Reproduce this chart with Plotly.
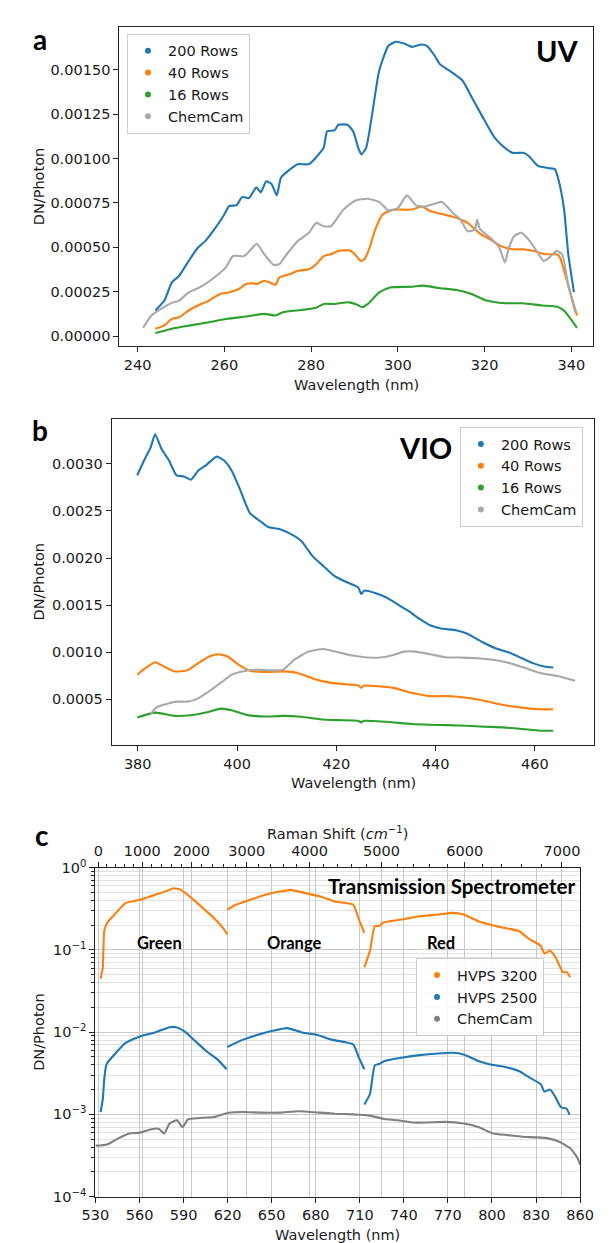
import plotly.graph_objects as go

W, H = 609, 1243

# ---------------- Panel a (UV) ----------------
uv_200_x = [244.1, 246.2, 247.9, 249.6, 251.8, 253.9, 255.6, 257.7, 259.9, 261.1, 262.8, 264.1, 265.7, 267.4, 268.4,
            269.7, 270.9, 272.1, 273.1, 276.9, 279.5, 282.9, 283.7, 285.4, 286.3, 288.4, 289.7, 291.0, 291.6, 292.7,
            294.0, 295.7, 297.8, 299.5, 301.6, 303.3, 305.5, 306.8, 308.5, 309.7, 311.9, 314.9, 317.0, 319.5, 322.1,
            323.8, 326.4, 328.9, 330.2, 332.3, 334.9, 336.2, 337.0, 338.3, 339.3, 340.6]
uv_200_y = [0.000144, 0.0002, 0.000302, 0.00034, 0.000424, 0.000498, 0.000535, 0.000601, 0.000681, 0.000733, 0.000737,
            0.000783, 0.000778, 0.000839, 0.000811, 0.000872, 0.000857, 0.000793, 0.000894, 0.000969, 0.000969, 0.001061,
            0.001154, 0.001159, 0.001191, 0.001191, 0.001154, 0.001052, 0.001024, 0.001061, 0.001237, 0.001496, 0.001635,
            0.001659, 0.001648, 0.00163, 0.001644, 0.001635, 0.00158, 0.001533, 0.001496, 0.001441, 0.001348, 0.001237,
            0.001126, 0.00108, 0.001033, 0.001033, 0.001015, 0.000959, 0.000946, 0.000941, 0.000885, 0.000719, 0.00046,
            0.000248]

uv_40_x = [244.1, 246.2, 247.9, 249.6, 251.8, 253.9, 256.5, 259.0, 261.1, 263.3, 265.0, 266.7, 267.5, 269.2, 270.5,
           271.8, 272.7, 275.2, 276.9, 279.5, 281.2, 282.9, 284.6, 286.3, 288.8, 290.1, 291.4, 292.3, 293.5, 294.8,
           296.5, 298.2, 299.9, 303.3, 305.5, 307.6, 310.2, 313.6, 316.1, 318.7, 321.3, 323.8, 326.4, 328.9, 331.5,
           334.0, 336.6, 337.4, 339.6, 341.3]
uv_40_y = [0.000041, 0.00006, 0.000097, 0.000106, 0.000144, 0.000172, 0.0002, 0.000237, 0.000246, 0.000265, 0.000293,
           0.000297, 0.000293, 0.000312, 0.000302, 0.000289, 0.00033, 0.000349, 0.000368, 0.000377, 0.000405, 0.000451,
           0.000461, 0.000479, 0.000483, 0.000461, 0.000424, 0.000433, 0.000498, 0.000601, 0.000685, 0.000707, 0.000713,
           0.000713, 0.000731, 0.000703, 0.000688, 0.000666, 0.000638, 0.000582, 0.000545, 0.000507, 0.000489, 0.000489,
           0.000479, 0.000461, 0.000461, 0.000442, 0.000256, 0.000116]

uv_16_x = [244.1, 247.9, 252.2, 256.5, 260.7, 265.0, 269.2, 271.8, 273.5, 277.8, 281.2, 282.9, 285.4, 288.8, 290.6,
           291.8, 293.1, 295.7, 298.2, 303.3, 305.9, 309.3, 313.6, 317.0, 320.4, 324.7, 328.9, 333.2, 336.6, 338.3, 341.3]
uv_16_y = [0.0000168, 0.000041, 0.00006, 0.000078, 0.000097, 0.00011, 0.000125, 0.000116, 0.000134, 0.000147, 0.000159,
           0.000181, 0.000181, 0.00019, 0.000177, 0.000162, 0.000181, 0.000246, 0.000274, 0.000278, 0.000284, 0.000271,
           0.000259, 0.000237, 0.0002, 0.000185, 0.000185, 0.000172, 0.000166, 0.000144, 0.0000466]

uv_cc_x = [241.3, 243.2, 245.4, 247.9, 249.6, 251.8, 253.5, 255.6, 258.2, 260.3, 262.0, 264.6, 265.8, 267.5, 269.2,
           271.4, 272.7, 274.4, 276.9, 279.5, 281.2, 282.9, 284.6, 287.1, 288.8, 290.4, 293.0, 295.7, 297.8, 299.9,
           302.1, 304.2, 305.9, 308.5, 310.2, 312.7, 314.4, 316.1, 317.8, 318.3, 318.9, 321.7, 323.4, 324.7, 325.5,
           326.8, 328.5, 329.8, 331.5, 333.6, 334.9, 336.6, 337.9, 339.1, 340.9]
uv_cc_y = [0.0000466, 0.000116, 0.000153, 0.000187, 0.0002, 0.000246, 0.000265, 0.000293, 0.00034, 0.000386, 0.000451,
           0.000451, 0.000479, 0.00052, 0.000461, 0.000401, 0.000405, 0.000461, 0.000535, 0.000582, 0.000638, 0.000619,
           0.000619, 0.000703, 0.000741, 0.000765, 0.000774, 0.000756, 0.000709, 0.000719, 0.000793, 0.000737, 0.000728,
           0.000746, 0.000756, 0.000694, 0.000657, 0.000591, 0.0006, 0.000657, 0.000605, 0.000545, 0.000498, 0.000414,
           0.000489, 0.000563, 0.000582, 0.000554, 0.000498, 0.000424, 0.000442, 0.000479, 0.000461, 0.000312, 0.000134]

# ---------------- Panel b (VIO) ----------------
vio_200_x = [379.9, 381.1, 382.6, 383.5, 384.8, 386.3, 387.8, 389.3, 390.7, 392.2, 393.7, 395.9, 397.4, 398.9, 400.4,
             402.6, 404.8, 406.3, 408.5, 410.7, 413.0, 415.2, 417.4, 419.6, 421.9, 424.4, 425.0, 425.6, 427.8, 430.0,
             432.2, 434.4, 436.7, 438.9, 441.1, 444.1, 446.3, 449.3, 452.2, 455.2, 457.4, 459.6, 461.9, 463.7]
vio_200_y = [0.002878, 0.003017, 0.003175, 0.003315, 0.003157, 0.003035, 0.002878, 0.002867, 0.002832, 0.00293,
             0.002983, 0.003077, 0.003035, 0.00293, 0.002755, 0.002476, 0.002388, 0.002329, 0.002308, 0.002259,
             0.002178, 0.002021, 0.001916, 0.001811, 0.001748, 0.001689, 0.001619, 0.001654, 0.001629, 0.001584,
             0.001514, 0.001444, 0.001357, 0.001287, 0.001252, 0.001234, 0.0012, 0.001112, 0.00104, 0.00099,
             0.000937, 0.000885, 0.00085, 0.000839]

vio_40_x = [379.9, 381.1, 383.5, 385.2, 387.4, 390.0, 392.2, 394.4, 396.3, 398.1, 400.4, 402.6, 405.6, 409.3, 412.2,
            415.9, 418.9, 422.6, 424.4, 425.0, 425.6, 428.5, 431.5, 435.2, 438.9, 442.6, 446.3, 450.0, 453.7, 457.4,
            461.1, 463.7]
vio_40_y = [0.000762, 0.000815, 0.000895, 0.00085, 0.000797, 0.000808, 0.000885, 0.000955, 0.000979, 0.000955,
            0.000867, 0.000804, 0.00079, 0.000797, 0.00078, 0.00071, 0.000675, 0.000657, 0.00065, 0.000622, 0.000647,
            0.00064, 0.000622, 0.00057, 0.000535, 0.000535, 0.000517, 0.000483, 0.00044, 0.000413, 0.000395, 0.000395]

vio_16_x = [379.9, 383.5, 387.4, 390.7, 393.7, 396.7, 398.9, 401.9, 405.6, 409.3, 413.0, 416.7, 420.4, 424.4, 425.0,
            425.6, 430.0, 435.2, 438.9, 442.6, 446.3, 450.0, 453.7, 457.4, 461.1, 463.7]
vio_16_y = [0.000308, 0.00036, 0.000325, 0.000332, 0.00036, 0.000402, 0.000385, 0.000336, 0.000318, 0.000325,
            0.000315, 0.00029, 0.00028, 0.000273, 0.000255, 0.000273, 0.000262, 0.000238, 0.000231, 0.000227,
            0.00022, 0.00021, 0.000203, 0.000185, 0.000168, 0.000168]

vio_cc_x = [382.6, 383.7, 385.6, 387.8, 390.0, 392.2, 394.4, 396.7, 398.9, 401.1, 404.1, 407.0, 409.3, 411.5, 414.4,
            417.4, 420.4, 423.3, 426.3, 429.3, 431.5, 433.7, 435.9, 438.9, 441.9, 444.8, 448.5, 451.5, 454.4, 458.1,
            461.1, 464.8, 468.1]
vio_cc_y = [0.000343, 0.000413, 0.000448, 0.000476, 0.000476, 0.000511, 0.000587, 0.000675, 0.000762, 0.000797,
            0.000815, 0.000808, 0.000815, 0.00092, 0.001007, 0.001035, 0.001, 0.000965, 0.000944, 0.000948, 0.000972,
            0.001007, 0.001007, 0.000979, 0.000948, 0.000944, 0.000937, 0.00092, 0.000892, 0.000832, 0.00078,
            0.000745, 0.000699]

# ---------------- Panel c (Transmission spectrometer) ----------------
hv3200_green_x = [533.5, 535.0, 536.0, 538.0, 543.0, 550.5, 560.5, 570.5, 580.5, 583.0, 588.0, 595.5, 603.1, 610.6, 616.8, 619.8]
hv3200_green_y = [0.0445, 0.0614, 0.169, 0.213, 0.268, 0.37, 0.406, 0.466, 0.535, 0.56, 0.535, 0.425, 0.322, 0.244, 0.185, 0.154]
hv3200_orange_x = [619.8, 625.6, 635.6, 645.6, 655.6, 663.1, 673.1, 683.1, 693.1, 700.6, 705.6, 709.4, 713.1]
hv3200_orange_y = [0.308, 0.353, 0.406, 0.466, 0.51, 0.535, 0.488, 0.445, 0.387, 0.37, 0.353, 0.233, 0.161]
hv3200_red_x = [713.1, 716.9, 720.2, 723.2, 725.7, 738.2, 750.7, 763.2, 773.2, 780.7, 790.7, 798.2, 808.2, 818.2,
                825.7, 833.2, 835.7, 839.5, 843.3, 848.3, 850.8, 853.3]
hv3200_red_y = [0.0614, 0.0973, 0.194, 0.194, 0.213, 0.233, 0.256, 0.268, 0.281, 0.268, 0.223, 0.203, 0.185, 0.169,
                0.134, 0.112, 0.0904, 0.0973, 0.0809, 0.0535, 0.0535, 0.0466]

hv2500_green_x = [533.5, 535.0, 536.0, 537.5, 543.0, 550.5, 560.5, 570.5, 580.5, 585.5, 590.6, 598.1, 605.6, 613.1, 619.3]
hv2500_green_y = [0.001067, 0.00154, 0.00268, 0.00406, 0.00535, 0.00738, 0.00887, 0.00991, 0.01148, 0.0114, 0.0102,
                  0.00773, 0.00586, 0.00466, 0.00353]
hv2500_orange_x = [619.8, 630.6, 640.6, 650.6, 660.6, 670.6, 680.6, 690.6, 700.6, 705.6, 709.4, 713.1]
hv2500_orange_y = [0.0066, 0.0081, 0.00929, 0.01037, 0.01117, 0.00991, 0.00929, 0.0081, 0.00752, 0.00705, 0.00488, 0.00353]
hv2500_red_x = [713.1, 716.9, 720.2, 723.2, 726.9, 738.2, 750.7, 763.2, 773.2, 780.7, 790.7, 798.2, 808.2, 818.2,
                825.7, 833.2, 835.7, 839.5, 843.3, 847.0, 850.8, 852.8]
hv2500_red_y = [0.00132, 0.00177, 0.00394, 0.0041, 0.00445, 0.00488, 0.00525, 0.0055, 0.0056, 0.00535, 0.00445,
                0.00406, 0.0038, 0.00337, 0.0028, 0.00233, 0.00189, 0.002, 0.00161, 0.00122, 0.00117, 0.00099]

cc_x = [530.0, 538.0, 545.5, 553.0, 560.5, 568.0, 573.0, 576.8, 580.5, 585.5, 589.3, 593.0, 600.6, 610.6, 620.6,
        630.6, 643.1, 655.6, 668.1, 683.1, 693.1, 705.6, 715.6, 725.7, 735.7, 745.7, 755.7, 768.2, 780.7, 790.7,
        800.7, 810.7, 820.7, 830.7, 838.2, 845.8, 853.3, 858.3, 860.0]
cc_y = [0.000417, 0.000432, 0.000511, 0.000586, 0.0006, 0.00066, 0.00067, 0.000586, 0.000773, 0.000847, 0.000702,
        0.00087, 0.000903, 0.00093, 0.001047, 0.00107, 0.00105, 0.00105, 0.00109, 0.00105, 0.00102, 0.001, 0.000973,
        0.000887, 0.000847, 0.000797, 0.000797, 0.000811, 0.000773, 0.000702, 0.000586, 0.00056, 0.000535, 0.000526,
        0.000511, 0.000466, 0.000387, 0.000294, 0.000245]

raman_major = [0, 1000, 2000, 3000, 4000, 5000, 6000, 7000]
raman_minor = [s for s in range(200, 7200, 200) if s % 1000 != 0]
EXC_NM = 532.0

uv_ticks = [0, 0.00025, 0.0005, 0.00075, 0.001, 0.00125, 0.0015]
uv_ticktext = ["0.00000", "0.00025", "0.00050", "0.00075", "0.00100", "0.00125", "0.00150"]
vio_ticks = [0.0005, 0.001, 0.0015, 0.002, 0.0025, 0.003]
vio_ticktext = ["0.0005", "0.0010", "0.0015", "0.0020", "0.0025", "0.0030"]

BLUE, ORANGE, GREEN = "#1f77b4", "#ff7f0e", "#2ca02c"
LGRAY, DGRAY = "#a9a9a9", "#808080"
FONT = "DejaVu Sans"
FS = 14.5
TXT = "#1a1a1a"


def shift_to_nm(s):
    return 1e7 / (1e7 / EXC_NM - s)


fig = go.Figure()
LW = 2.1


def line(x, y, color, xa, ya):
    fig.add_trace(go.Scatter(x=x, y=y, mode="lines",
                             line=dict(color=color, width=LW, shape="spline", smoothing=0.5),
                             xaxis=xa, yaxis=ya, showlegend=False, hoverinfo="skip"))


def leg(name, color, legend, xa, ya):
    fig.add_trace(go.Scatter(x=[None], y=[None], mode="markers", name=name,
                             marker=dict(color=color, size=6), legend=legend, xaxis=xa, yaxis=ya))


line(uv_200_x, uv_200_y, BLUE, "x", "y")
line(uv_40_x, uv_40_y, ORANGE, "x", "y")
line(uv_16_x, uv_16_y, GREEN, "x", "y")
line(uv_cc_x, uv_cc_y, LGRAY, "x", "y")
leg("200 Rows", BLUE, "legend", "x", "y")
leg("40 Rows", ORANGE, "legend", "x", "y")
leg("16 Rows", GREEN, "legend", "x", "y")
leg("ChemCam", LGRAY, "legend", "x", "y")

line(vio_200_x, vio_200_y, BLUE, "x2", "y2")
line(vio_40_x, vio_40_y, ORANGE, "x2", "y2")
line(vio_16_x, vio_16_y, GREEN, "x2", "y2")
line(vio_cc_x, vio_cc_y, LGRAY, "x2", "y2")
leg("200 Rows", BLUE, "legend2", "x2", "y2")
leg("40 Rows", ORANGE, "legend2", "x2", "y2")
leg("16 Rows", GREEN, "legend2", "x2", "y2")
leg("ChemCam", LGRAY, "legend2", "x2", "y2")

for xs, ys in [(hv3200_green_x, hv3200_green_y), (hv3200_orange_x, hv3200_orange_y), (hv3200_red_x, hv3200_red_y)]:
    line(xs, ys, ORANGE, "x3", "y3")
for xs, ys in [(hv2500_green_x, hv2500_green_y), (hv2500_orange_x, hv2500_orange_y), (hv2500_red_x, hv2500_red_y)]:
    line(xs, ys, BLUE, "x3", "y3")
line(cc_x, cc_y, DGRAY, "x3", "y3")
leg("HVPS 3200", ORANGE, "legend3", "x3", "y3")
leg("HVPS 2500", BLUE, "legend3", "x3", "y3")
leg("ChemCam", DGRAY, "legend3", "x3", "y3")

# invisible trace so that the top (Raman shift) axis is drawn
fig.add_trace(go.Scatter(x=cc_x, y=cc_y, mode="lines", line=dict(width=0, color="rgba(0,0,0,0)"),
                         xaxis="x4", yaxis="y3", showlegend=False, hoverinfo="skip"))


def px(x, y):
    return x / W, 1 - y / H


tickfont = dict(family=FONT, size=FS, color=TXT)
common = dict(showline=True, linecolor="#222", linewidth=1.1, mirror=True, ticks="outside",
              ticklen=5, tickwidth=1.1, tickcolor="#222", tickfont=tickfont, zeroline=False, showgrid=False)

ax_a = (102, 599, 9, 333)
ax_b = (94, 600, 407, 738)
ax_c = (77, 585, 862, 1196)


def dom(ax):
    l, r, t, b = ax
    return [l / W, r / W], [1 - b / H, 1 - t / H]


xa, ya = dom(ax_a)
xb, yb = dom(ax_b)
xc, yc = dom(ax_c)

log_minor = []
for e in range(-4, 0):
    for k in range(2, 10):
        log_minor.append(k * 10 ** e)

fig.update_layout(
    width=W, height=H, margin=dict(l=0, r=0, t=0, b=0),
    paper_bgcolor="white", plot_bgcolor="white",
    font=dict(family=FONT, size=FS, color=TXT),
    xaxis=dict(domain=xa, range=[235.8, 345.1], tickvals=[240, 260, 280, 300, 320, 340], anchor="y", **common),
    yaxis=dict(domain=ya, range=[-0.0000572, 0.001743], tickvals=uv_ticks, ticktext=uv_ticktext, anchor="x", **common),
    xaxis2=dict(domain=xb, range=[374.75, 472.0], tickvals=[380, 400, 420, 440, 460], anchor="y2", **common),
    yaxis2=dict(domain=yb, range=[0.0000126, 0.003475], tickvals=vio_ticks, ticktext=vio_ticktext, anchor="x2", **common),
    xaxis3=dict(domain=xc, range=[530, 860], tickvals=list(range(530, 861, 30)), anchor="y3",
                **{**common, "showgrid": True, "gridcolor": "#c8c8c8", "gridwidth": 1}),
    yaxis3=dict(domain=yc, type="log", range=[-4, 0], anchor="x3",
                tickvals=[1e-4, 1e-3, 1e-2, 1e-1, 1],
                ticktext=["10<sup>−4</sup>", "10<sup>−3</sup>", "10<sup>−2</sup>", "10<sup>−1</sup>", "10<sup>0</sup>"],
                minor=dict(tickvals=log_minor, ticks="outside", ticklen=3, tickcolor="#222", tickwidth=0.9,
                           showgrid=True, gridcolor="#e2e2e2", gridwidth=1),
                **{**common, "showgrid": True, "gridcolor": "#c8c8c8", "gridwidth": 1}),
    xaxis4=dict(overlaying="x3", side="top", anchor="y3", range=[530, 860],
                tickmode="array",
                tickvals=[shift_to_nm(s) for s in raman_major], ticktext=[str(s) for s in raman_major],
                ticks="outside", ticklen=5, tickwidth=1.1, tickcolor="#222", tickfont=tickfont,
                showline=False, zeroline=False, showgrid=True, gridcolor="#c8c8c8", gridwidth=1,
                minor=dict(tickmode="array", tickvals=[shift_to_nm(s) for s in raman_minor], ticks="outside",
                           ticklen=3, tickcolor="#222", tickwidth=0.9, showgrid=False)),
)

legcommon = dict(font=dict(family=FONT, size=FS, color=TXT), bgcolor="rgba(255,255,255,0.85)",
                 bordercolor="#cccccc", borderwidth=1, xanchor="left", yanchor="top", itemsizing="trace",
                 tracegroupgap=0)
lx, ly = px(110, 16)
fig.update_layout(legend=dict(x=lx, y=ly, **legcommon))
lx, ly = px(459, 415)
fig.update_layout(legend2=dict(x=lx, y=ly, **legcommon))
lx, ly = px(413, 954)
fig.update_layout(legend3=dict(x=lx, y=ly, **legcommon))

ann = []


def text(x, y, s, size, bold=False, family=FONT, angle=0, xanchor="center"):
    ax_, ay_ = px(x, y)
    ann.append(dict(x=ax_, y=ay_, xref="paper", yref="paper", text=("<b>%s</b>" % s) if bold else s,
                    showarrow=False, font=dict(family=family, size=size, color="black" if bold else TXT),
                    textangle=angle, xanchor=xanchor, yanchor="middle"))


LABF = "Lato"
text(19, 21, "a", 28, True, LABF)
text(19, 418, "b", 28, True, LABF)
text(21, 829, "c", 28, True, LABF)
text(561, 33, "UV", 29, True, LABF)
text(423, 436, "VIO", 29, True, LABF)
text(582, 881, "Transmission Spectrometer", 20.5, True, LABF, xanchor="right")
text(144, 939, "Green", 16.5, True, LABF)
text(285, 939, "Orange", 16.5, True, LABF)
text(439, 939, "Red", 16.5, True, LABF)

text(350.5, 372, "Wavelength (nm)", FS)
text(347, 776, "Wavelength (nm)", FS)
text(331, 1235, "Wavelength (nm)", FS)
text(331, 827, "Raman Shift (<i>cm</i><sup>−1</sup>)", FS)
text(17.5, 171, "DN/Photon", FS, angle=-90)
text(17.5, 572, "DN/Photon", FS, angle=-90)
text(17.5, 1029, "DN/Photon", FS, angle=-90)

fig.update_layout(annotations=ann)
fig.write_html("out.html")
